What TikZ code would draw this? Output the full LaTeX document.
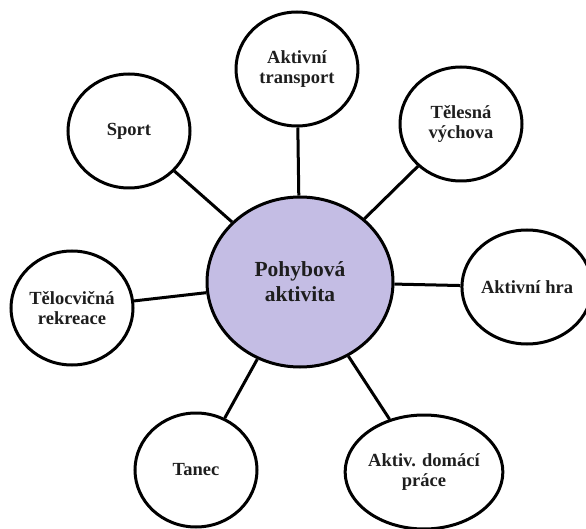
\documentclass[tikz,border=0pt]{standalone}
\usepackage{fontspec}
\setmainfont{Liberation Serif}
\usetikzlibrary{shapes.geometric}
\definecolor{lav}{RGB}{196,189,228}
\definecolor{txt}{RGB}{30,30,30}
\tikzset{
  outer/.style={ellipse, draw=black, line width=3pt, fill=white, inner sep=0pt,
    minimum width=122pt, minimum height=114pt, align=center, text=txt,
    font=\fontsize{18.5}{20}\selectfont\bfseries},
  hub/.style={ellipse, draw=black, line width=3pt, fill=lav, inner sep=0pt,
    minimum width=186pt, minimum height=170pt, align=center, text=txt,
    font=\fontsize{21.5}{25}\selectfont\bfseries},
  link/.style={draw=black, line width=3pt}
}
\begin{document}
\begin{tikzpicture}[x=1pt,y=-1pt]
\useasboundingbox (0,0) rectangle (586,529);
\clip (0,0) rectangle (586,529);
\node[hub] (c) at (300,282) {Pohybová\\aktivita};
\node[outer] (tr) at (297,69) {Aktivní\\transport};
\node[outer] (sp) at (129,131) {Sport};
\node[outer] (tv) at (461,124) {Tělesná\\výchova};
\node[outer] (hra) at (527,287) {Aktivní hra};
\node[outer] (rek) at (72,308) {Tělocvičná\\rekreace};
\node[outer] (tan) at (196,470) {Tanec};
\node[outer] (dom) at (424,472) {Aktiv. domácí\\práce};
\foreach \n in {tr,sp,tv,hra,rek,tan,dom}{\draw[link] (c) -- (\n);}
\end{tikzpicture}
\end{document}
